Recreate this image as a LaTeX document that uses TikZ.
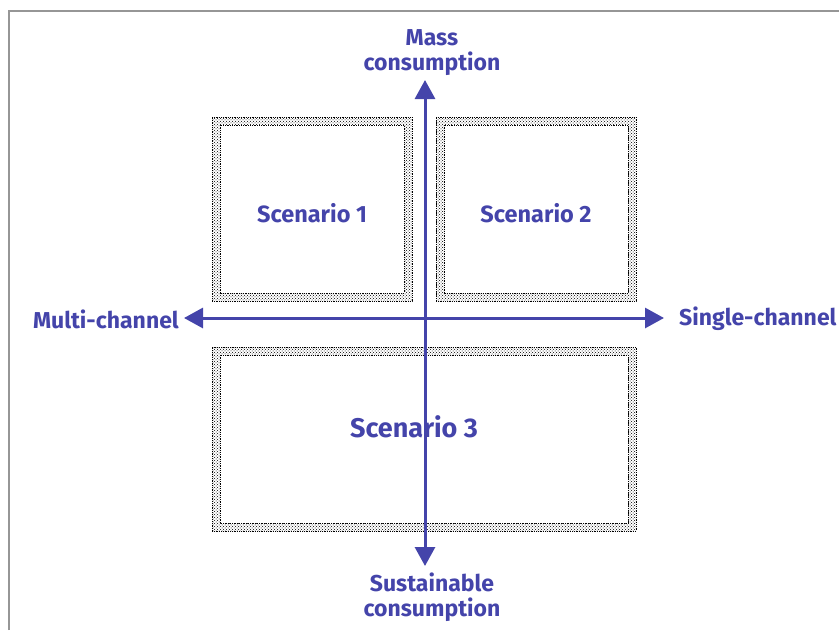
\documentclass[tikz,border=0pt]{standalone}
\usepackage{fontspec}
\setmainfont{Fira Sans}
\usetikzlibrary{arrows.meta,patterns}
\definecolor{axisblue}{RGB}{68,68,170}
\definecolor{framegray}{RGB}{150,150,150}
\begin{document}
\begin{tikzpicture}[x=1pt,y=-1pt,
  scenbox/.style={draw=black, densely dotted, line width=0.8pt, inner sep=0pt,
    path picture={
      \fill[pattern=crosshatch dots, pattern color=black, even odd rule]
        (path picture bounding box.south west) rectangle (path picture bounding box.north east)
        ([shift={(8pt,8pt)}]path picture bounding box.south west) rectangle
        ([shift={(-8pt,-8pt)}]path picture bounding box.north east);
      \draw[black, densely dotted, line width=0.8pt]
        ([shift={(8pt,8pt)}]path picture bounding box.south west) rectangle
        ([shift={(-8pt,-8pt)}]path picture bounding box.north east);
    }},
  scenlabel/.style={text=axisblue, font=\bfseries\fontsize{23.5}{26}\selectfont},
  axislabel/.style={text=axisblue, font=\bfseries\fontsize{23}{25}\selectfont, align=center, inner sep=0pt},
  axis/.style={draw=axisblue, line width=3pt,
    {Triangle[length=19pt,width=20pt]}-{Triangle[length=19pt,width=20pt]}}
]
\useasboundingbox (0,0) rectangle (839,630);
% outer frame
\draw[framegray, line width=2pt] (9,630) -- (9,11) -- (839,11);

% scenario boxes
\node[scenbox, minimum width=200pt, minimum height=184pt] (box1) at (312,209) {};
\node[scenbox, minimum width=200pt, minimum height=184pt] (box2) at (536,209) {};
\node[scenbox, minimum width=424pt, minimum height=184pt] (box3) at (424,439) {};

\node[scenlabel] (lab1) at (312,213) {Scenario 1};
\node[scenlabel] (lab2) at (536,213) {Scenario 2};
\node[scenlabel, font=\bfseries\fontsize{27}{30}\selectfont] (lab3) at (414,427) {Scenario 3};

% axes
\coordinate (top) at (425,80);
\coordinate (bottom) at (425,566);
\coordinate (left) at (184,318);
\coordinate (right) at (664,318);
\draw[axis] (left) -- (right);
\draw[axis] (bottom) -- (top);

% axis labels
\node[axislabel] (mass) at (432,53) {Mass\\consumption};
\node[axislabel] (sust) at (432,597) {Sustainable\\consumption};
\node[axislabel, anchor=east] (multi) at (179,319) {Multi-channel};
\node[axislabel, anchor=west] (single) at (679,319) {Single-channel};
\end{tikzpicture}
\end{document}
